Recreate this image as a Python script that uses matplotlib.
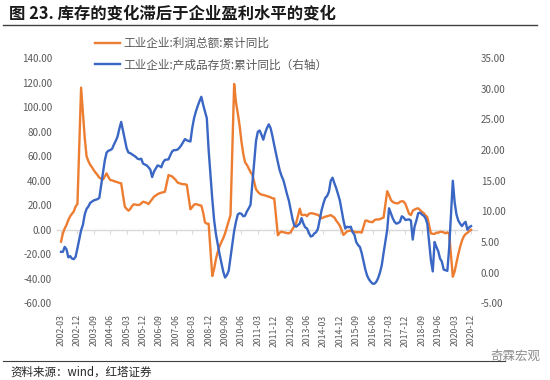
import numpy as np
import pandas as pd
import matplotlib
matplotlib.use("Agg")
import matplotlib.pyplot as plt

plt.rcParams['font.family'] = ['Noto Sans CJK SC', 'DejaVu Sans']

nan = np.nan

# monthly data, 2002-03 .. 2020-12 (January not published -> nan)
months = pd.period_range('2002-03', '2020-12', freq='M').strftime('%Y-%m').tolist()

# 工业企业:利润总额:累计同比 (left axis, %)
profit = [
    -9.7, -3, 1, 4, 8, 11, 13, 15, 19, 21,                           # 2002
    nan, 116, 95, 75, 60, 56, 53, 51, 48.5, 46.5, 44.7, 42.5,         # 2003
    nan, 41, 43.5, 46, 43, 40.6, 40.3, 39.8, 39.2, 38.8, 38.2, 37.9,  # 2004
    nan, 18.8, 17, 15.6, 17, 19.5, 20.8, 20.5, 20.2, 20.3, 21.5, 22.9,  # 2005
    nan, 22, 21, 23, 25, 27, 28, 29, 29.8, 30.2, 30.6, 31,            # 2006
    nan, 44.7, 44, 43.5, 42, 40.5, 38.5, 37.9, 37.5, 37.2, 37.1, 36.7,  # 2007
    nan, 16.7, 18.5, 20.5, 21, 20.5, 20, 19.7, 14, 6, 5, 4.9,         # 2008
    nan, -37.7, -32, -24, -18, -13.5, -10, -7, -3, 2, 7, 12,          # 2009
    nan, 119, 104, 95, 85, 72, 62, 55, 53, 50, 47, 45,                # 2010
    nan, 33, 31, 29.5, 28.7, 28.4, 28, 27.5, 27, 26.5, 25.7, 25.5,    # 2011
    nan, -4.5, -2.4, -1.5, -2, -2.3, -2.7, -2.9, -2, 0.5, 3, 5.3,     # 2012
    nan, 17.2, 12.1, 12, 12.3, 11.1, 13, 13.5, 13.4, 13, 12.5, 12.2,  # 2013
    nan, 9.4, 10, 10.7, 11, 11.5, 12, 11, 10, 7.5, 5.5, 3.3,          # 2014
    nan, -4.2, -2.7, -1.3, -0.8, -0.7, -1, -1.7, -1.9, -2, -1.9, -2.3,  # 2015
    nan, 7.5, 7.4, 6.6, 6.4, 6.2, 7.9, 8.4, 8.4, 8.6, 9.4, 10,        # 2016
    nan, 31.5, 28.3, 24.4, 22.7, 22, 21.6, 21.6, 22.8, 23.3, 23.1, 21,  # 2017
    nan, 13, 12, 15.5, 16.5, 17.2, 17.5, 16.2, 14.7, 13.6, 11.8, 10.3,  # 2018
    nan, -3, -3.3, -3.4, -2.3, -2.4, -1.7, -1.7, -2.1, -2.9, -2.1, -3.3,  # 2019
    nan, -38.3, -34, -27, -20, -14, -9, -5.5, -3.5, -2.5, -1.2, 0,    # 2020
]

# 工业企业:产成品存货:累计同比 (right axis, %)
inventory = [
    3.4, 3.4, 4.2, 3.8, 2.5, 2.7, 2.3, 2.2, 2.6, 4.0,                      # 2002
    nan, 6.9, 7.8, 9.5, 10.4, 10.8, 11.4, 11.6, 11.8, 11.9, 12.0, 12.2,     # 2003
    nan, 16.2, 18.3, 19.6, 19.9, 20.0, 20.2, 20.9, 21.5, 22.2, 23.5, 24.6,  # 2004
    nan, 21.7, 20.3, 19.6, 19.5, 19.3, 19.1, 18.9, 18.6, 18.5, 18.6, 17.8,  # 2005
    nan, 17.5, 17.2, 16.8, 15.6, 16.5, 17.0, 17.5, 17.4, 17.2, 18.0, 18.4,  # 2006
    nan, 18.5, 19.2, 19.8, 20.0, 20.0, 20.1, 20.4, 20.8, 21.3, 21.8, 21.6,  # 2007
    nan, 21.4, 23.6, 25.2, 26.3, 27.2, 28.0, 28.7, 27.4, 26.3, 25.2, 20.0,  # 2008
    nan, 12.0, 8.6, 6.3, 4.6, 3.0, 1.6, 0.2, -0.8, -0.4, 0.3, 2.5,         # 2009
    nan, 6.8, 8.3, 9.5, 9.7, 9.6, 9.2, 9.3, 10.0, 10.5, 11.1, 14.5,         # 2010
    nan, 21.5, 23.0, 23.2, 22.5, 21.7, 22.8, 23.6, 24.2, 23.6, 22.3, 20.8,  # 2011
    nan, 18.0, 16.7, 15.8, 15.1, 14.0, 12.8, 11.8, 10.3, 8.8, 7.7, 7.5,     # 2012
    nan, 8.0, 8.9, 8.0, 7.4, 7.2, 6.5, 5.9, 6.0, 6.4, 6.6, 7.2,             # 2013
    nan, 10.2, 11.3, 12.2, 12.5, 13.2, 15.0, 15.5, 14.6, 13.8, 12.8, 11.8,  # 2014
    nan, 8.5, 7.2, 7.5, 7.4, 7.5, 6.6, 6.2, 5.0, 4.5, 4.2, 3.2,             # 2015
    nan, 0.5, -0.5, -1.1, -1.5, -1.8, -1.8, -1.5, -0.9, 0.0, 1.2, 3.2,      # 2016
    nan, 7.0, 10.5, 9.7, 8.9, 8.3, 8.0, 8.1, 8.3, 9.2, 9.0, 8.6,            # 2017
    nan, 8.7, 8.5, 5.4, 7.5, 8.5, 9.7, 9.8, 9.5, 9.3, 8.9, 8.0,             # 2018
    nan, 2.0, 0.2, 5.0, 4.2, 3.5, 2.3, 1.8, 0.5, 0.4, 0.3, 4.0,             # 2019
    nan, 15.0, 11.5, 9.5, 8.5, 8.0, 7.6, 8.0, 8.3, 7.0, 7.4, 7.6,           # 2020
]

profit_label = '工业企业:利润总额:累计同比'
inventory_label = '工业企业:产成品存货:累计同比（右轴）'

orange = '#ED7D31'
blue = '#3A67C4'
grey = '#595959'

x = np.arange(len(months))
p = np.array(profit, dtype=float)
v = np.array(inventory, dtype=float)
pm = ~np.isnan(p)
vm = ~np.isnan(v)

fig = plt.figure(figsize=(5.5, 3.8), dpi=100)
ax = fig.add_axes([57.4 / 550, 1 - 303.3 / 380, (476.5 - 57.4) / 550, (303.3 - 58.2) / 380])
ax2 = ax.twinx()

l1, = ax.plot(x[pm], p[pm], color=orange, lw=1.7, label=profit_label)
l2, = ax2.plot(x[vm], v[vm], color=blue, lw=1.7, label=inventory_label)

ax.set_xlim(-2, len(months) + 2)
ax.set_ylim(-60, 140)
ax.set_yticks(np.arange(-60, 141, 20))
ax.set_yticklabels([f'{t:.2f}' for t in np.arange(-60, 141, 20)])
ax2.set_ylim(-5, 35)
ax2.set_yticks(np.arange(-5, 36, 5))
ax2.set_yticklabels([f'{t:.2f}' for t in np.arange(-5, 36, 5)])

for a in (ax, ax2):
    for s in a.spines.values():
        s.set_visible(False)
    a.tick_params(axis='y', length=0, labelsize=7, labelcolor=grey)
ax.tick_params(axis='y', pad=4)
ax2.tick_params(axis='y', pad=3)

ticks = x[::9]
ax.set_xticks(ticks)
ax.set_xticklabels([months[i] for i in ticks], rotation=90, fontsize=6.3, color=grey)
ax.tick_params(axis='x', length=0, pad=8)

# category axis crossing at zero
zero = ax.secondary_xaxis(60 / 200)
zero.spines['bottom'].set_color('#D9D9D9')
zero.spines['bottom'].set_linewidth(1)
zero.set_xticks(ticks)
zero.set_xticklabels([])
zero.tick_params(axis='x', length=3, color='#D9D9D9', width=0.8)

leg = fig.legend(handles=[l1, l2], loc='upper left', bbox_to_anchor=(95 / 550, 1 - 37 / 380),
                 frameon=False, fontsize=8.4, labelcolor=grey, handlelength=2.1,
                 handletextpad=0.3, labelspacing=0.7, borderpad=0, borderaxespad=0)

fig.text(9 / 550, 1 - 13 / 380, '图 23. 库存的变化滞后于企业盈利水平的变化',
         fontsize=11.8, fontweight='bold', color='#1a1a1a', va='center', ha='left')
fig.add_artist(plt.Line2D([3 / 550, 537 / 550], [1 - 25 / 380] * 2, color='#404040', lw=1))
fig.add_artist(plt.Line2D([3 / 550, 505 / 550], [1 - 361 / 380] * 2, color='#404040', lw=0.8))
fig.text(540 / 550, 1 - 356 / 380, '奇霖宏观', fontsize=9, color='#8c8c8c', ha='right', va='center')
fig.text(10 / 550, 1 - 372 / 380, '资料来源：wind，红塔证券', fontsize=8.3, color='#262626',
         ha='left', va='center')

fig.savefig('out.png', dpi=100)
